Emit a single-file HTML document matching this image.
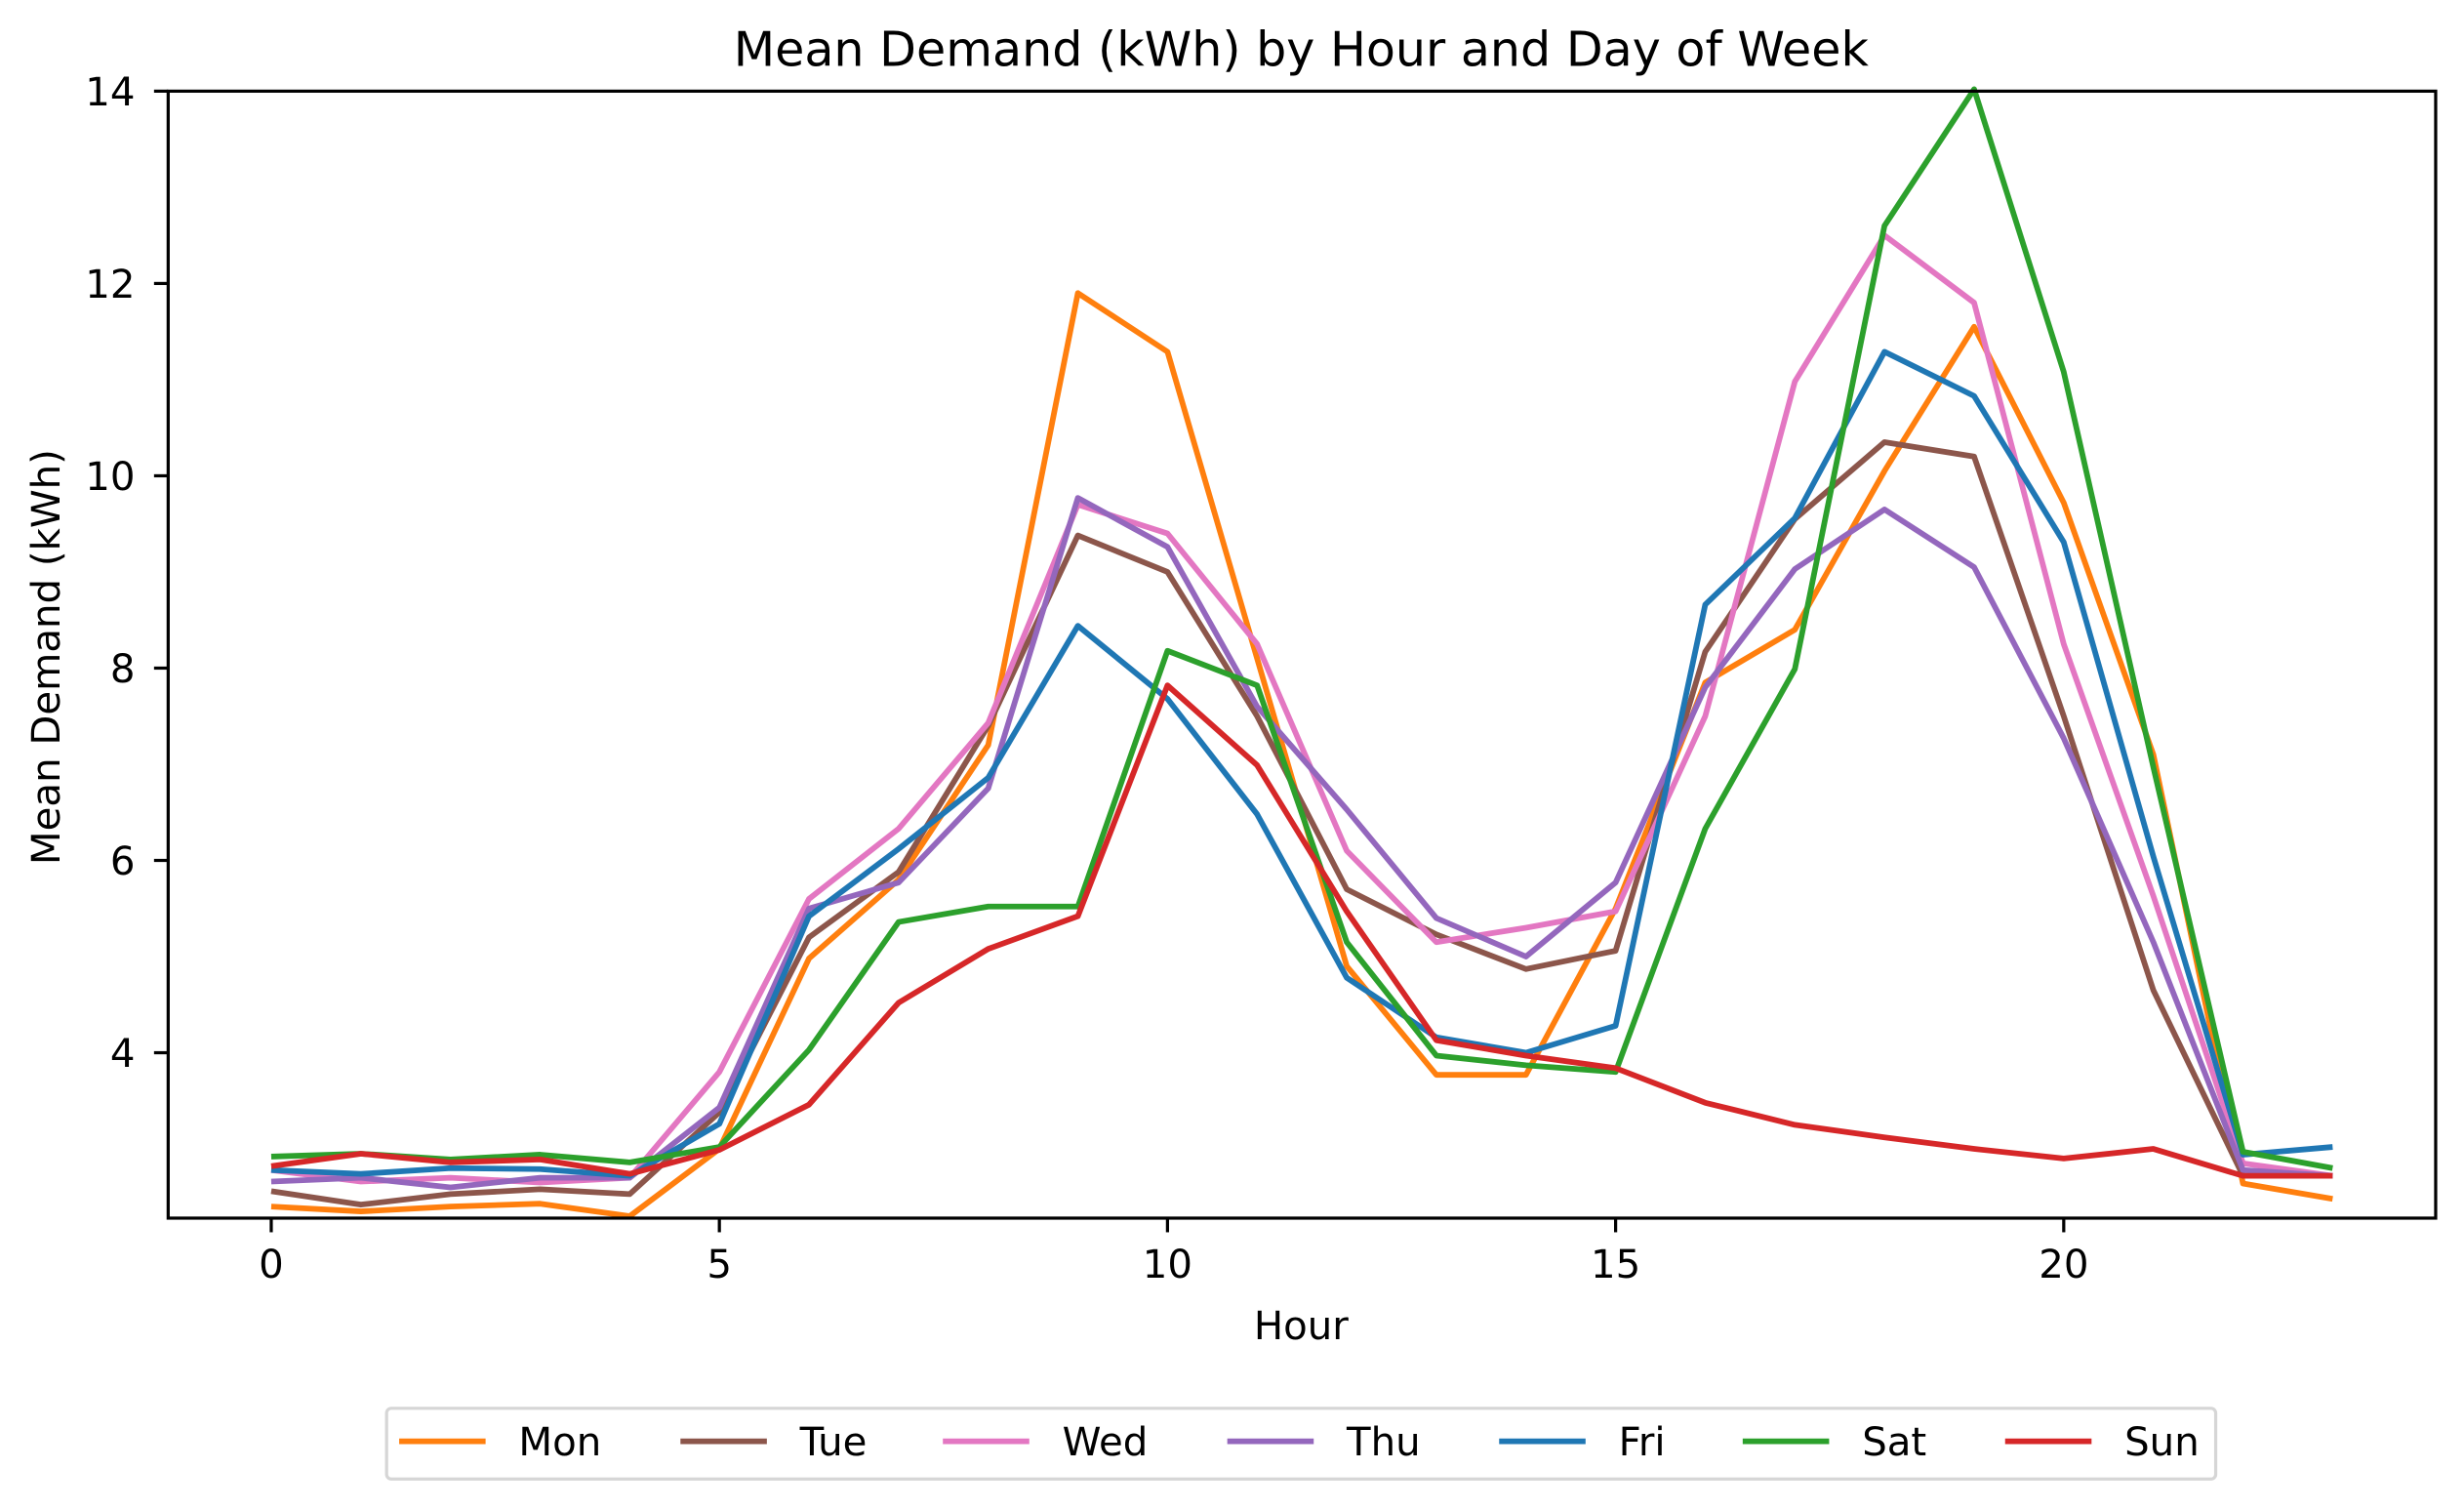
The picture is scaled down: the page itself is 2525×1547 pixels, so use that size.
<!DOCTYPE html>
<html><head><meta charset="utf-8"><style>
html,body{margin:0;padding:0;background:#fff}
svg{display:block;font-family:"DejaVu Sans","Liberation Sans",sans-serif}
</style></head><body>
<svg id="chart" width="2525" height="1547" viewBox="0 0 1568 960.7" xmlns="http://www.w3.org/2000/svg">
<rect width="1568" height="960.7" fill="#fff"/>
<text x="828" y="42" text-anchor="middle" font-size="30.5">Mean Demand (kWh) by Hour and Day of Week</text>
<g id="ticks"></g>
<g id="lines"></g>
<rect x="107" y="58" width="1443" height="717" fill="none" stroke="#000" stroke-width="2"/>
<text x="828" y="852" text-anchor="middle" font-size="25">Hour</text>
<text transform="translate(38,418) rotate(-90)" text-anchor="middle" font-size="25">Mean Demand (kWh)</text>
<g id="legend">
<rect x="246" y="896" width="1164" height="45" rx="3" fill="#fff" stroke="#d6d6d6" stroke-width="2"/>
</g>
</svg>
<script>
const hours=[0,1,2,3,4,5,6,7,8,9,10,11,12,13,14,15,16,17,18,19,20,21,22,23];
const seriesNames=["Mon","Tue","Wed","Thu","Fri","Sat","Sun"];
const mon=[2.40,2.35,2.40,2.43,2.30,3.00,4.98,5.80,7.20,11.90,11.29,8.10,4.90,3.77,3.77,5.50,7.85,8.40,10.05,11.55,9.72,7.10,2.64,2.48];
const tue=[2.56,2.42,2.53,2.58,2.53,3.38,5.20,5.88,7.40,9.38,9.00,7.50,5.70,5.23,4.87,5.06,8.17,9.55,10.35,10.20,7.50,4.65,2.72,2.72];
const wed=[2.78,2.66,2.70,2.65,2.70,3.80,5.60,6.33,7.43,9.70,9.40,8.25,6.10,5.15,5.30,5.47,7.50,10.98,12.50,11.80,8.25,5.63,2.85,2.72];
const thu=[2.66,2.70,2.60,2.70,2.70,3.43,5.50,5.77,6.75,9.77,9.26,7.60,6.53,5.40,5.00,5.77,7.80,9.03,9.65,9.05,7.27,5.15,2.78,2.72];
const fri=[2.78,2.74,2.80,2.79,2.72,3.26,5.42,6.12,6.86,8.44,7.68,6.48,4.78,4.16,4.00,4.28,8.66,9.56,11.29,10.83,9.31,6.04,2.94,3.02];
const sat=[2.92,2.95,2.89,2.94,2.86,3.02,4.03,5.36,5.52,5.52,8.18,7.82,5.15,3.97,3.87,3.80,6.33,7.99,12.60,14.02,11.08,6.97,2.97,2.80];
const sun=[2.82,2.95,2.86,2.89,2.74,2.99,3.46,4.52,5.08,5.42,7.82,6.99,5.47,4.13,3.97,3.84,3.48,3.25,3.12,3.00,2.90,3.00,2.72,2.72];
const colors=["#ff7f0e","#8c564b","#e377c2","#9467bd","#1f77b4","#2ca02c","#d62728"];
const xTicks=[0,5,10,15,20];
const yTicks=[4,6,8,10,12,14];
const allSeries=[mon,tue,wed,thu,fri,sat,sun];
const NS="http://www.w3.org/2000/svg";
const X0=107,X1=1550,Y0=58,Y1=775,xmin=-1.15,xmax=24.15,ymin=2.28,ymax=14;
const xs=v=>X0+(v-xmin)/(xmax-xmin)*(X1-X0);
const ys=v=>Y1-(v-ymin)/(ymax-ymin)*(Y1-Y0);
function mk(tag,attrs,parent){const e=document.createElementNS(NS,tag);for(const k in attrs)e.setAttribute(k,attrs[k]);parent.appendChild(e);return e;}
const tg=document.getElementById('ticks');
xTicks.forEach(t=>{
  const l=mk('line',{x1:xs(t),x2:xs(t),y1:Y1,y2:Y1+9,stroke:'#000','stroke-width':2},tg);
  
  
  const tx=mk('text',{x:xs(t),y:Y1+38,'text-anchor':'middle','font-size':25},tg);
  tx.textContent=t;
  
  
});
yTicks.forEach(t=>{
  const l=mk('line',{x1:X0-9,x2:X0,y1:ys(t),y2:ys(t),stroke:'#000','stroke-width':2},tg);
  
  
  const tx=mk('text',{x:86,y:ys(t)+9,'text-anchor':'end','font-size':25},tg);
  tx.textContent=t;
  
  
});
const lg=document.getElementById('lines');
allSeries.forEach((s,i)=>{
  const p=mk('polyline',{points:s.map((v,j)=>xs(hours[j])+','+ys(v)).join(' '),fill:'none',stroke:colors[i],'stroke-width':3.6,'stroke-linejoin':'round','stroke-linecap':'butt'},lg);
  
  
});
const leg=document.getElementById('legend');
const legText=[330,509,676,857,1030,1185,1352];
seriesNames.forEach((n,i)=>{
  const l=mk('line',{x1:legText[i]-76,x2:legText[i]-21,y1:917,y2:917,stroke:colors[i],'stroke-width':3.6},leg);
  
  
  const t=mk('text',{x:legText[i],y:926,'font-size':25},leg);
  t.textContent=n;
  
  
});
</script>
</body></html>
